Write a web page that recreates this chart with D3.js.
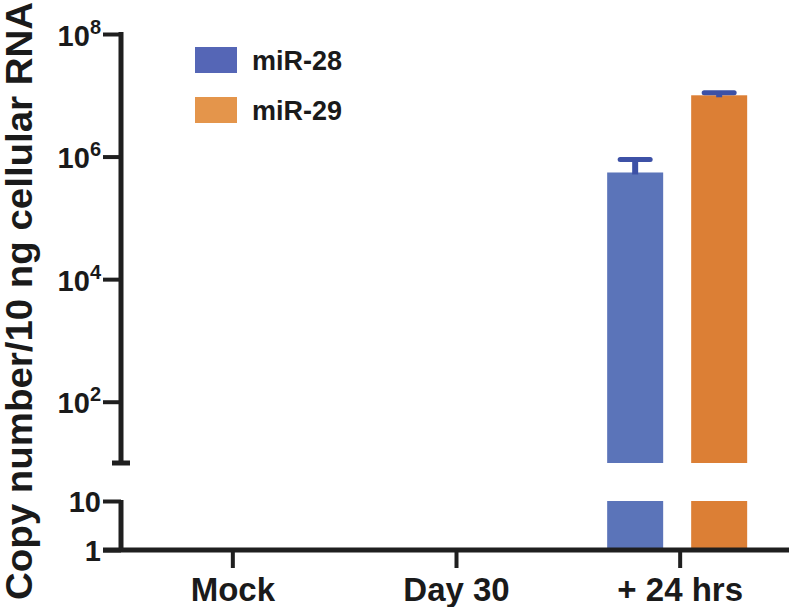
<!DOCTYPE html>
<html>
<head>
<meta charset="utf-8">
<script src="https://cdn.jsdelivr.net/npm/d3@7"></script>
<style>
  body { margin: 0; background: #fff; }
  svg text { font-family: "Liberation Sans", Arial, sans-serif; font-weight: bold; fill: #1a1a1a; }
</style>
</head>
<body>
<div id="chart"></div>
<script>
// data
const categories = ["Mock", "Day 30", "+ 24 hrs"];
const seriesNames = ["miR-28", "miR-29"];
const mir28 = [null, null, 5.5e5];
const mir29 = [null, null, 1.0e7];
const mir28Upper = [null, null, 9.0e5];
const mir29Upper = [null, null, 1.1e7];
const upperTicks = [1e2, 1e4, 1e6, 1e8];
const lowerTicks = [1, 10];

const width = 789, height = 607;
const colors = { "miR-28": "#5b74b9", "miR-29": "#dc7f35" };
const legendColors = { "miR-28": "#5566b6", "miR-29": "#e4954b" };
const errColor = "#3d51a6";
const ink = "#1f1f1f";

const svg = d3.select("#chart").append("svg")
    .attr("width", width)
    .attr("height", height);

// broken y axis: upper log segment + lower log segment
const yTop = d3.scaleLog().domain([10, 1e8]).range([463, 34]);
const yLow = d3.scaleLog().domain([1, 10]).range([550, 501]);
const axisX = 121;

const x0 = d3.scaleBand().domain(categories).range([121, 792]);
const x1 = d3.scaleBand().domain(seriesNames).range([-73, 67]).paddingInner(1 / 3);

// bars
const rows = [];
categories.forEach((c, i) => {
    [mir28, mir29].forEach((arr, k) => {
        if (arr[i] != null) {
            rows.push({ cat: c, name: seriesNames[k], value: arr[i], upper: [mir28Upper, mir29Upper][k][i] });
        }
    });
});

const bars = svg.append("g").selectAll("g").data(rows).enter().append("g")
    .attr("transform", d => "translate(" + (x0(d.cat) + x0.bandwidth() / 2 + x1(d.name)) + ",0)");

bars.append("rect")
    .attr("width", x1.bandwidth())
    .attr("y", d => yTop(d.value))
    .attr("height", d => yTop(10) - yTop(d.value))
    .attr("fill", d => colors[d.name]);

bars.append("rect")
    .attr("width", x1.bandwidth())
    .attr("y", yLow(10))
    .attr("height", yLow(1) - yLow(10))
    .attr("fill", d => colors[d.name]);

// error bars (upper only)
bars.append("line")
    .attr("x1", x1.bandwidth() / 2).attr("x2", x1.bandwidth() / 2)
    .attr("y1", d => yTop(d.value) + 2).attr("y2", d => yTop(d.upper))
    .attr("stroke", errColor).attr("stroke-width", 6);
bars.append("line")
    .attr("x1", x1.bandwidth() / 2 - 15).attr("x2", x1.bandwidth() / 2 + 15)
    .attr("y1", d => yTop(d.upper)).attr("y2", d => yTop(d.upper))
    .attr("stroke", errColor).attr("stroke-width", 5).attr("stroke-linecap", "round");

// y axis, upper segment
function supLabels(sel) {
    sel.selectAll(".tick text").each(function(d) {
        const t = d3.select(this);
        const exp = Math.round(Math.log10(d));
        t.text(null).attr("dy", null).attr("y", 11).attr("x", -20);
        t.append("tspan").text("10").style("font-size", "29px");
        if (exp > 1) t.append("tspan").attr("dy", -12).text(exp).style("font-size", "20px");
    });
}

const gTop = svg.append("g")
    .attr("transform", "translate(" + axisX + ",0)")
    .call(d3.axisLeft(yTop).tickValues(upperTicks).tickSize(18).tickSizeOuter(0))
    .call(supLabels);

const gLow = svg.append("g")
    .attr("transform", "translate(" + axisX + ",0)")
    .call(d3.axisLeft(yLow).tickValues(lowerTicks).tickSize(18).tickSizeOuter(0).tickFormat(d3.format("d")));
gLow.selectAll(".tick text").attr("x", -20).attr("dy", "0.36em").style("font-size", "29px");

[gTop, gLow].forEach(g => {
    g.selectAll("path, line").attr("stroke", ink).attr("stroke-width", 4);
    g.select(".domain").attr("stroke-width", 5);
    g.selectAll("text").attr("fill", ink);
});
gTop.select(".domain").attr("d", "M0," + (yTop.range()[1] - 2) + "V" + yTop.range()[0]);
gLow.select(".domain").attr("d", "M0," + (yLow(10) - 1) + "V" + yLow(1));
// cap at the bottom of the upper segment
gTop.append("line")
    .attr("x1", -9).attr("x2", 9).attr("y1", yTop(10)).attr("y2", yTop(10))
    .attr("stroke", ink).attr("stroke-width", 5);

// x axis
const gx = svg.append("g")
    .attr("transform", "translate(0," + yLow(1) + ")")
    .call(d3.axisBottom(x0).tickSize(18).tickSizeOuter(0));
gx.select(".domain").attr("d", "M103,0H789").attr("stroke", ink).attr("stroke-width", 5);
gx.selectAll(".tick line").attr("stroke", ink).attr("stroke-width", 4);
gx.selectAll(".tick text").attr("y", 51).attr("dy", null).style("font-size", "33px").attr("fill", ink);

// y title
svg.append("text")
    .attr("transform", "translate(32,301)rotate(-90)")
    .attr("text-anchor", "middle")
    .attr("textLength", 598)
    .attr("lengthAdjust", "spacingAndGlyphs")
    .style("font-size", "36px")
    .text("Copy number/10 ng cellular RNA");

// legend
const legend = svg.append("g").selectAll("g").data(seriesNames).enter().append("g")
    .attr("transform", (d, i) => "translate(195," + (47 + i * 50) + ")");
legend.append("rect").attr("width", 42).attr("height", 26).attr("fill", d => legendColors[d]);
legend.append("text").attr("x", 57).attr("y", 23).style("font-size", "27px").text(d => d);
</script>
</body>
</html>
